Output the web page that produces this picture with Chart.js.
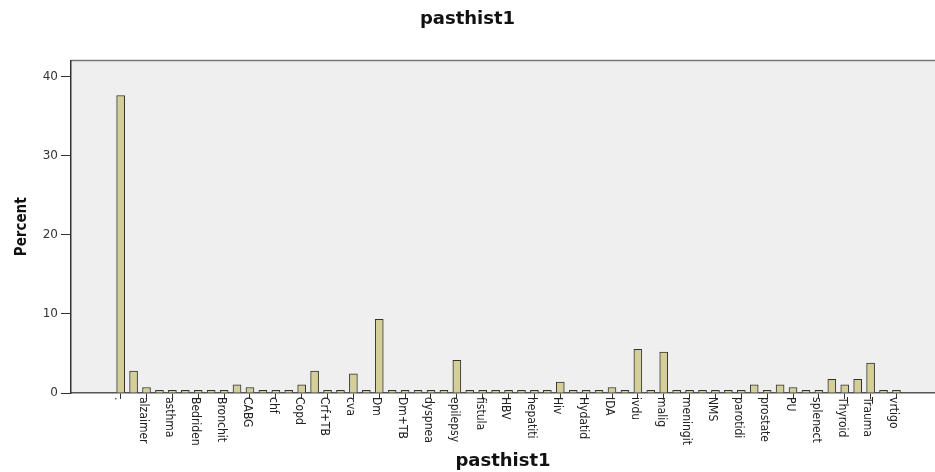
<!DOCTYPE html>
<html>
<head>
<meta charset="utf-8">
<script src="https://cdn.jsdelivr.net/npm/chart.js@4"></script>
<style>
  html, body { margin: 0; padding: 0; background: #fff; }
  #wrap { width: 935px; height: 472px; }
</style>
</head>
<body>
<div id="wrap"><canvas id="pasthistChart" width="935" height="472"></canvas></div>
<script>
// Percent per category (61 bars, only every other one is labelled)
const percent = [
  37.59, 2.76, 0.69, 0.34, 0.34, 0.34, 0.34, 0.34, 0.34, 1.03,
  0.69, 0.34, 0.34, 0.34, 1.03, 2.76, 0.34, 0.34, 2.41, 0.34,
  9.31, 0.34, 0.34, 0.34, 0.34, 0.34, 4.14, 0.34, 0.34, 0.34,
  0.34, 0.34, 0.34, 0.34, 1.38, 0.34, 0.34, 0.34, 0.69, 0.34,
  5.52, 0.34, 5.17, 0.34, 0.34, 0.34, 0.34, 0.34, 0.34, 1.03,
  0.34, 1.03, 0.69, 0.34, 0.34, 1.72, 1.03, 1.72, 3.79, 0.34,
  0.34
];

// Visible tick labels (on bars 0, 2, 4, ...)
const tickLabels = [
  '.', 'alzaimer', 'asthma', 'Bedriden', 'Bronchit', 'CABG', 'chf', 'Copd',
  'Crf+TB', 'cva', 'Dm', 'Dm+TB', 'dyspnea', 'epilepsy', 'fistula', 'HBV',
  'hepatiti', 'Hiv', 'Hydatid', 'IDA', 'ivdu', 'malig', 'meningit', 'NMS',
  'parotidi', 'prostate', 'PU', 'splenect', 'Thyroid', 'Trauma', 'vrtigo'
];

const yTicks = [0, 10, 20, 30, 40];

const titleFont = { family: '"DejaVu Sans", Verdana, sans-serif', size: 18, weight: 'bold' };

// Plot background + frame + downward-reading tick labels
const spssLook = {
  id: 'spssLook',
  beforeDraw(chart) {
    const { ctx, chartArea: a } = chart;
    ctx.save();
    ctx.fillStyle = '#ffffff';
    ctx.fillRect(0, 0, chart.width, chart.height);
    ctx.fillStyle = '#efefef';
    ctx.fillRect(a.left, a.top, a.right - a.left, a.bottom - a.top);
    ctx.strokeStyle = '#777';
    ctx.lineWidth = 1.5;
    ctx.beginPath();
    ctx.moveTo(a.left, a.top);
    ctx.lineTo(a.right, a.top);
    ctx.stroke();
    ctx.restore();
  },
  afterDraw(chart) {
    const { ctx } = chart;
    const xs = chart.scales.x;
    ctx.save();
    ctx.fillStyle = '#222';
    ctx.font = '12px "Liberation Sans Narrow", "DejaVu Sans Condensed", sans-serif';
    ctx.textAlign = 'left';
    ctx.textBaseline = 'middle';
    tickLabels.forEach((lab, i) => {
      const x = xs.getPixelForValue(i * 2);
      ctx.save();
      ctx.translate(x - 3, chart.chartArea.bottom + 4);
      ctx.rotate(Math.PI / 2);
      ctx.fillText(lab, 0, 0);
      ctx.restore();
    });
    ctx.restore();
  }
};

const ctx = document.getElementById('pasthistChart').getContext('2d');

new Chart(ctx, {
  type: 'bar',
  data: {
    datasets: [{
      label: 'Percent',
      data: percent.map((v, i) => ({ x: i, y: v })),
      backgroundColor: '#d4cf98',
      borderColor: '#333333',
      borderWidth: 1,
      barThickness: 8
    }]
  },
  options: {
    responsive: false,
    animation: false,
    layout: { padding: { left: 0, right: 0, top: 0, bottom: 0 } },
    plugins: {
      legend: { display: false },
      tooltip: { enabled: false },
      title: {
        display: true,
        text: 'pasthist1',
        color: '#111',
        font: titleFont,
        padding: { top: 9, bottom: 30 }
      }
    },
    scales: {
      x: {
        type: 'linear',
        min: -3.84,
        max: 62.98,
        offset: false,
        afterFit(scale) { scale.height = 79; },
        afterBuildTicks(scale) {
          scale.ticks = tickLabels.map((_, i) => ({ value: i * 2 }));
        },
        ticks: { display: false },
        grid: { offset: false, drawOnChartArea: false, drawTicks: true, tickLength: 6, color: '#333', lineWidth: 1 },
        border: { display: true, color: '#555', width: 1.5 },
        title: {
          display: true,
          text: 'pasthist1',
          color: '#111',
          font: titleFont,
          padding: { top: 0, bottom: 0 }
        }
      },
      y: {
        min: 0,
        max: 42,
        afterFit(scale) { scale.width = 71; },
        afterBuildTicks(scale) {
          scale.ticks = yTicks.map(v => ({ value: v }));
        },
        ticks: {
          color: '#333',
          padding: 3,
          font: { family: '"DejaVu Sans", Verdana, sans-serif', size: 12 }
        },
        grid: { drawOnChartArea: false, drawTicks: true, tickLength: 10, color: '#333' },
        border: { display: true, color: '#333', width: 1.5 },
        title: {
          display: true,
          text: 'Percent',
          color: '#111',
          font: { family: '"Liberation Sans Narrow", "DejaVu Sans Condensed", sans-serif', size: 15, weight: 'bold' },
          padding: { top: 13, bottom: 0 }
        }
      }
    }
  },
  plugins: [spssLook]
});
</script>
</body>
</html>
